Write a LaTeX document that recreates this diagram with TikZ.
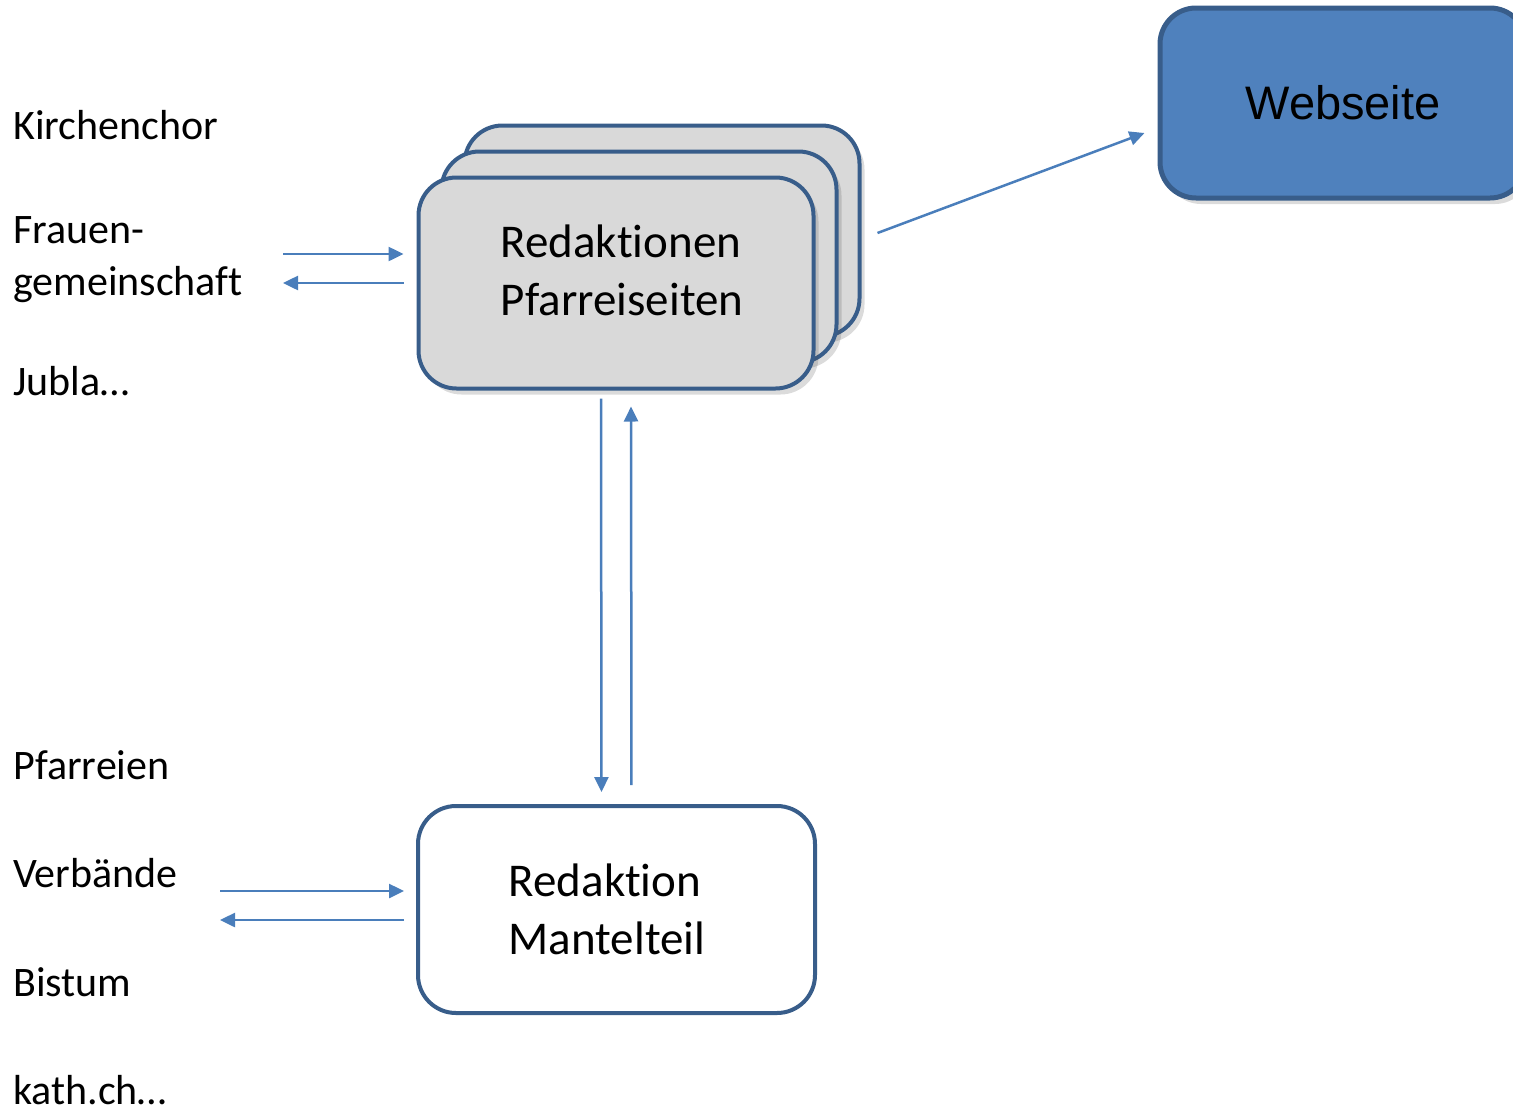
\documentclass[tikz,border=0pt]{standalone}
\usepackage{fontspec}
\setmainfont{Carlito}[Ligatures=NoCommon]
\newfontfamily\arialfont{Liberation Sans}
\usetikzlibrary{arrows.meta}
\usetikzlibrary{calc}
\usetikzlibrary{shadows}
\usetikzlibrary{positioning}

\definecolor{rahmen}{RGB}{56,93,138}
\definecolor{pfeilblau}{RGB}{74,126,187}
\definecolor{webblau}{RGB}{79,129,189}
\definecolor{hellgrau}{RGB}{217,217,217}

\begin{document}
\begin{tikzpicture}[x=1pt,y=-1pt]
\tikzstyle{every node}=[font=\fontsize{42}{52}\selectfont]
\tikzstyle{etikett}=[inner sep=0pt, align=left]
\tikzstyle{kasten}=[draw=rahmen, line width=4pt, rounded corners=38pt, inner sep=0pt,
    minimum width=395pt, minimum height=211pt]
\tikzstyle{schatten}=[drop shadow={shadow xshift=5pt, shadow yshift=-6pt, opacity=0.2, fill=black!70}]
\tikzstyle{boxtext}=[font=\fontsize{47}{58}\selectfont, inner sep=0pt, align=left]
\tikzstyle{fluss}=[-{Triangle[length=15pt,width=14pt]}, draw=pfeilblau, line width=2.5pt]
\def\dx{23}
\def\dy{26}

\useasboundingbox (0,0) rectangle (1513,1111);

% Gruppen links oben
\node[etikett, anchor=base west] (chor) at (13,139) {Kirchenchor};
\node[etikett, anchor=west] (frauen) at (13,260) {Frauen-\\gemeinschaft};
\node[etikett, anchor=base west] (jubla) at (13,395) {Jubla…};

% Gruppen links unten
\node[etikett, anchor=base west] (pfarreien) at (13,779) {Pfarreien};
\node[etikett, anchor=base west] (verbaende) at (13,887) {Verbände};
\node[etikett, anchor=base west] (bistum) at (13,996) {Bistum};
\node[etikett, anchor=base west] (kath) at (13,1104) {kath.ch…};

%=== Redaktionen Pfarreiseiten (Stapel)
\node[kasten, schatten, fill=hellgrau] (pf3) at (616+2*\dx,283-2*\dy) {};
\node[kasten, schatten, fill=hellgrau] (pf2) at (616+\dx,283-\dy) {};
\node[kasten, schatten, fill=hellgrau] (pf1) at (616,283) {};
\node[boxtext] (pftext) at (622,270) {Redaktionen\\Pfarreiseiten};

%=== Redaktion Mantelteil
\node[kasten, fill=white, minimum width=397pt, minimum height=207pt] (mt) at (616.5,909.5) {};
\node[boxtext] (mttext) at (607,909) {Redaktion\\Mantelteil};

%=== Webseite
\node[kasten, schatten, fill=webblau, line width=5pt, rounded corners=36pt, minimum width=366pt, minimum height=190pt,
    font=\arialfont\fontsize{47}{56}\selectfont] (web) at (1343,103) {Webseite};

% Pfeile oben
\coordinate (ein1) at (283,254);
\coordinate (aus1) at (283,283);
\draw[fluss, shorten >=13pt] (ein1) -- (ein1 -| pf1.west);
\draw[fluss, shorten <=13pt] (aus1 -| pf1.west) -- (aus1);

% Pfeile unten
\coordinate (ein2) at (220,891);
\coordinate (aus2) at (220,920);
\draw[fluss, shorten >=12pt] (ein2) -- (ein2 -| mt.west);
\draw[fluss, shorten <=12pt] (aus2 -| mt.west) -- (aus2);

% zwischen den Redaktionen
\draw[fluss, shorten <=8pt, shorten >=12pt] ([xshift=-15pt]pf1.south) -- ([xshift=-15pt]mt.north);
\draw[fluss, shorten <=19pt, shorten >=16pt] ([xshift=15pt]mt.north) -- ([xshift=15pt]pf1.south);

% zur Webseite
\draw[fluss] ($(pf3.east)+(16,2)$) -- ($(web.west)+(-13,30)$);
\end{tikzpicture}
\end{document}
